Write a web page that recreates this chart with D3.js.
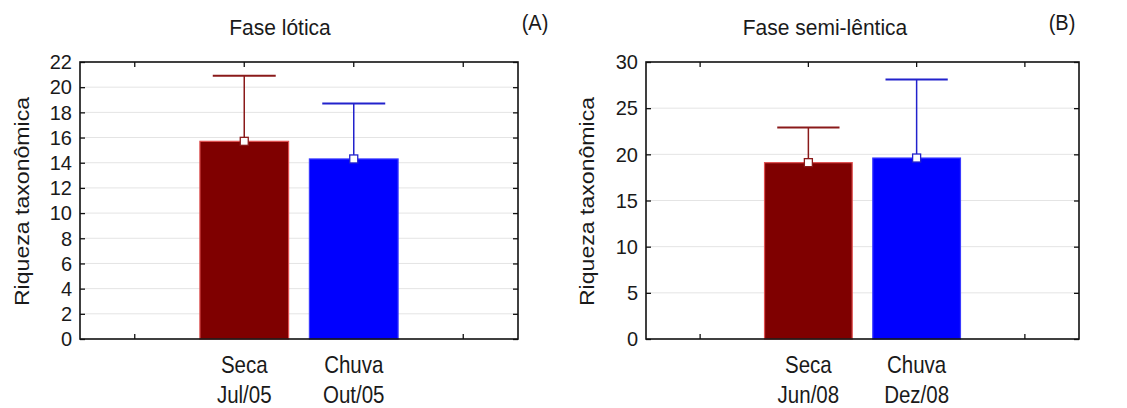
<!DOCTYPE html>
<html>
<head>
<meta charset="utf-8">
<script src="https://cdn.jsdelivr.net/npm/d3@7"></script>
<style>
  html, body { margin: 0; padding: 0; background: #fff; }
  svg text { font-family: "Liberation Sans", Arial, sans-serif; fill: #1a1a1a; }
</style>
</head>
<body>
<svg id="chart" width="1127" height="408"></svg>
<script>
// Riqueza taxonômica per season (mean and upper error limit)
const seasons = ["Seca", "Chuva"];
const periodsA = ["Jul/05", "Out/05"];
const periodsB = ["Jun/08", "Dez/08"];
const meanA = [15.7, 14.3];
const upperA = [20.9, 18.7];
const meanB = [19.1, 19.6];
const upperB = [22.9, 28.1];
const ticksA = [0, 2, 4, 6, 8, 10, 12, 14, 16, 18, 20, 22];
const ticksB = [0, 5, 10, 15, 20, 25, 30];

const fills = ["#7f0000", "#0000ff"];
const outlines = ["#e05050", "#3a3aff"];
const whiskers = ["#8a1a1a", "#2222cc"];

const svg = d3.select("#chart");

// text placed at (x, y) with a slightly tall glyph shape
const tall = (x, y, s) => `translate(${x},${y}) scale(1,${s})`;

function panel(cfg) {
  const g = svg.append("g");
  const { left, right, top, bottom } = cfg.box;

  // two empty slots frame the two seasons
  const slots = ["", ...seasons, " "];
  const x = d3.scaleBand().domain(slots).range([left, right]).padding(0);
  const y = d3.scaleLinear().domain([0, cfg.max]).range([bottom, top]);

  // light gridlines
  g.append("g").selectAll("line").data(cfg.ticks.slice(1, -1)).join("line")
    .attr("x1", left).attr("x2", right)
    .attr("y1", d => y(d)).attr("y2", d => y(d))
    .attr("stroke", "#e4e4e4").attr("stroke-width", 1);

  // inward tick marks on all four sides
  const leftAxis = g.append("g").attr("transform", `translate(${left},0)`)
    .call(d3.axisLeft(y).tickValues(cfg.ticks).tickSize(-5).tickFormat(""));
  const rightAxis = g.append("g").attr("transform", `translate(${right},0)`)
    .call(d3.axisRight(y).tickValues(cfg.ticks).tickSize(-5).tickFormat(""));
  const topAxis = g.append("g").attr("transform", `translate(0,${top})`)
    .call(d3.axisTop(x).tickSize(-5).tickFormat(""));
  const bottomAxis = g.append("g").attr("transform", `translate(0,${bottom})`)
    .call(d3.axisBottom(x).tickSize(-5).tickFormat(""));
  [leftAxis, rightAxis, topAxis, bottomAxis].forEach(a => {
    a.select(".domain").remove();
    a.selectAll("line").attr("stroke", "#111").attr("stroke-width", 1.3);
  });

  // y tick labels
  g.append("g").selectAll("text").data(cfg.ticks).join("text")
    .attr("transform", d => tall(left - 8, y(d) + 7.3, 1.05))
    .attr("text-anchor", "end")
    .attr("font-size", 20)
    .text(d => d);

  // bars
  const bw = x.bandwidth() * 0.81;
  const rows = seasons.map((s, i) => ({ s, i, mean: cfg.mean[i], upper: cfg.upper[i] }));
  g.append("g").selectAll("rect").data(rows).join("rect")
    .attr("x", d => x(d.s) + (x.bandwidth() - bw) / 2)
    .attr("width", bw)
    .attr("y", d => y(d.mean))
    .attr("height", d => y(0) - y(d.mean))
    .attr("fill", d => fills[d.i])
    .attr("stroke", d => outlines[d.i])
    .attr("stroke-width", 1.2);

  // upper error whiskers
  const cap = bw * 0.71;
  const eb = g.append("g").selectAll("g").data(rows).join("g");
  eb.append("line")
    .attr("x1", d => x(d.s) + x.bandwidth() / 2).attr("x2", d => x(d.s) + x.bandwidth() / 2)
    .attr("y1", d => y(d.mean)).attr("y2", d => y(d.upper))
    .attr("stroke", d => whiskers[d.i]).attr("stroke-width", 1.5);
  eb.append("line")
    .attr("x1", d => x(d.s) + x.bandwidth() / 2 - cap / 2)
    .attr("x2", d => x(d.s) + x.bandwidth() / 2 + cap / 2)
    .attr("y1", d => y(d.upper)).attr("y2", d => y(d.upper))
    .attr("stroke", d => whiskers[d.i]).attr("stroke-width", 2);
  // mean markers
  eb.append("rect")
    .attr("x", d => x(d.s) + x.bandwidth() / 2 - 4)
    .attr("y", d => y(d.mean) - 4)
    .attr("width", 8).attr("height", 8)
    .attr("fill", "#fff")
    .attr("stroke", d => whiskers[d.i]).attr("stroke-width", 1.3);

  // frame
  g.append("rect")
    .attr("x", left).attr("y", top)
    .attr("width", right - left).attr("height", bottom - top)
    .attr("fill", "none").attr("stroke", "#111").attr("stroke-width", 1.6);

  // category labels (two lines)
  const lab = g.append("g").selectAll("g").data(rows).join("g");
  lab.append("text")
    .attr("transform", d => tall(x(d.s) + x.bandwidth() / 2, bottom + 34, 1.15))
    .attr("text-anchor", "middle").attr("font-size", 20.5).text(d => d.s);
  lab.append("text")
    .attr("transform", d => tall(x(d.s) + x.bandwidth() / 2, bottom + 64, 1.15))
    .attr("text-anchor", "middle").attr("font-size", 20.5).text(d => cfg.periods[d.i]);

  // y axis title
  g.append("text")
    .attr("transform", `translate(${cfg.ylabX},${(top + bottom) / 2 + 1}) scale(1,1.1) rotate(-90)`)
    .attr("text-anchor", "middle").attr("dy", "0.35em")
    .attr("font-size", 21)
    .text("Riqueza taxonômica");

  // panel title and letter
  g.append("text").attr("transform", tall(cfg.titleX, 35, 1.08))
    .attr("text-anchor", "middle").attr("font-size", 21).text(cfg.title);
  g.append("text").attr("transform", tall(cfg.letterX, 30, 1.08))
    .attr("text-anchor", "middle").attr("font-size", 20).text(cfg.letter);
}

panel({
  box: { left: 80, right: 518, top: 62, bottom: 339 },
  max: 22, ticks: ticksA, mean: meanA, upper: upperA, periods: periodsA,
  title: "Fase lótica", titleX: 280, letter: "(A)", letterX: 535, ylabX: 22
});
panel({
  box: { left: 646, right: 1079, top: 62, bottom: 339 },
  max: 30, ticks: ticksB, mean: meanB, upper: upperB, periods: periodsB,
  title: "Fase semi-lêntica", titleX: 825, letter: "(B)", letterX: 1062, ylabX: 587
});
</script>
</body>
</html>
